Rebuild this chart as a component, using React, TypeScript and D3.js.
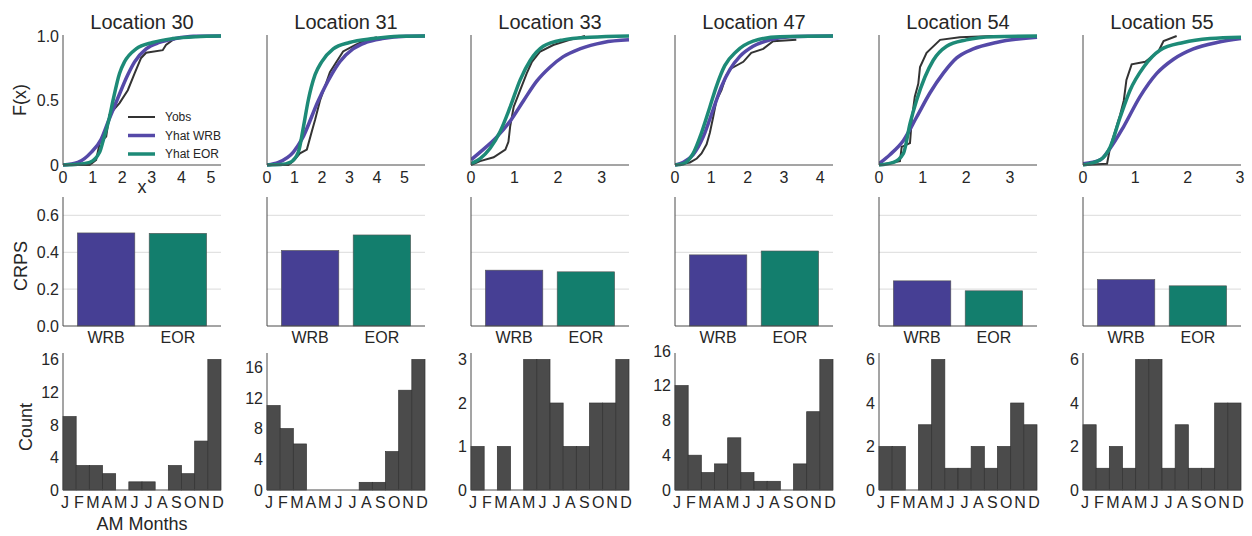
import React from 'react';
import * as d3 from 'd3';

// ---- data ----
const locations = ['Location 30', 'Location 31', 'Location 33', 'Location 47', 'Location 54', 'Location 55'];
const methods = ['WRB', 'EOR'];
const crpsWRB = [0.505, 0.41, 0.303, 0.386, 0.245, 0.252];
const crpsEOR = [0.503, 0.494, 0.294, 0.407, 0.191, 0.218];

const months = ['J', 'F', 'M', 'A', 'M', 'J', 'J', 'A', 'S', 'O', 'N', 'D'];
const count30 = [9, 3, 3, 2, 0, 1, 1, 0, 3, 2, 6, 16];
const count31 = [11, 8, 6, 0, 0, 0, 0, 1, 1, 5, 13, 17];
const count33 = [1, 0, 1, 0, 3, 3, 2, 1, 1, 2, 2, 3];
const count47 = [12, 4, 2, 3, 6, 2, 1, 1, 0, 3, 9, 15];
const count54 = [2, 2, 0, 3, 6, 1, 1, 2, 1, 2, 4, 3];
const count55 = [3, 1, 2, 1, 6, 6, 1, 3, 1, 1, 4, 4];
const countTicks = [[0, 4, 8, 12, 16], [0, 4, 8, 12, 16], [0, 1, 2, 3], [0, 4, 8, 12, 16], [0, 2, 4, 6], [0, 2, 4, 6]];

const xMax = [5.34, 5.75, 3.63, 4.35, 3.62, 3.02];
const xTicks = [[0, 1, 2, 3, 4, 5], [0, 1, 2, 3, 4, 5], [0, 1, 2, 3], [0, 1, 2, 3, 4], [0, 1, 2, 3], [0, 1, 2, 3]];

// empirical / fitted CDF points [x, F(x)]
const yobs30 = [[0, 0], [0.9, 0], [1.12, 0.04], [1.24, 0.17], [1.46, 0.22], [1.57, 0.39], [1.91, 0.48], [2.19, 0.58], [2.42, 0.71], [2.64, 0.83], [2.81, 0.87], [3.37, 0.89], [3.48, 0.93], [3.71, 0.97], [3.95, 0.99]];
const wrb30 = [[0, 0], [0.5, 0.02], [0.96, 0.1], [1.29, 0.2], [1.55, 0.35], [1.82, 0.5], [2.19, 0.7], [2.42, 0.8], [2.81, 0.9], [3.26, 0.95], [3.8, 0.98], [4.4, 0.998], [5.34, 1.0]];
const eor30 = [[0, 0], [0.5, 0.005], [0.9, 0.02], [1.24, 0.1], [1.37, 0.2], [1.57, 0.37], [1.69, 0.5], [1.91, 0.71], [2.08, 0.8], [2.47, 0.9], [3.03, 0.95], [3.7, 0.98], [4.5, 0.995], [5.34, 1.0]];

const yobs31 = [[0, 0], [0.78, 0], [0.96, 0.03], [1.2, 0.09], [1.45, 0.12], [1.63, 0.26], [1.75, 0.35], [1.93, 0.5], [2.11, 0.61], [2.29, 0.72], [2.53, 0.8], [2.77, 0.88], [3.2, 0.93], [3.6, 0.97], [4.0, 0.99]];
const wrb31 = [[0, 0], [0.42, 0.02], [0.96, 0.1], [1.27, 0.2], [1.87, 0.5], [2.35, 0.7], [2.65, 0.8], [3.13, 0.9], [3.6, 0.95], [4.2, 0.98], [5.06, 0.998], [5.75, 1.0]];
const eor31 = [[0, 0], [0.5, 0.003], [0.84, 0.02], [1.14, 0.1], [1.33, 0.3], [1.5, 0.5], [1.75, 0.7], [1.99, 0.8], [2.41, 0.9], [3.0, 0.95], [3.86, 0.98], [4.8, 0.998], [5.75, 1.0]];

const yobs33 = [[0, 0], [0.21, 0.03], [0.52, 0.06], [0.79, 0.12], [0.86, 0.18], [0.9, 0.3], [0.98, 0.45], [1.13, 0.58], [1.28, 0.71], [1.4, 0.8], [1.59, 0.88], [1.89, 0.93], [2.27, 0.97], [2.62, 1.0]];
const wrb33 = [[0, 0.04], [0.21, 0.1], [0.6, 0.22], [0.9, 0.34], [1.21, 0.5], [1.51, 0.65], [1.82, 0.76], [2.12, 0.84], [2.5, 0.9], [3.04, 0.95], [3.63, 0.97]];
const eor33 = [[0, 0.01], [0.21, 0.05], [0.44, 0.13], [0.67, 0.26], [0.9, 0.45], [1.13, 0.66], [1.36, 0.81], [1.66, 0.92], [2.12, 0.97], [2.73, 0.99], [3.63, 1.0]];

const yobs47 = [[0, 0], [0.41, 0.02], [0.6, 0.05], [0.73, 0.09], [0.87, 0.16], [0.96, 0.25], [1.05, 0.37], [1.14, 0.5], [1.28, 0.58], [1.42, 0.7], [1.56, 0.75], [1.88, 0.8], [2.1, 0.87], [2.43, 0.9], [2.7, 0.96], [3.34, 0.97]];
const wrb47 = [[0, 0], [0.23, 0.02], [0.5, 0.08], [0.78, 0.22], [1.05, 0.43], [1.28, 0.61], [1.51, 0.74], [1.78, 0.84], [2.15, 0.92], [2.61, 0.97], [3.16, 0.995], [4.35, 1.0]];
const eor47 = [[0, 0], [0.23, 0.01], [0.5, 0.09], [0.73, 0.25], [0.96, 0.45], [1.14, 0.61], [1.37, 0.77], [1.69, 0.88], [2.15, 0.96], [2.88, 0.995], [4.35, 1.0]];

const yobs54 = [[0, 0], [0.48, 0.03], [0.52, 0.14], [0.71, 0.17], [0.75, 0.35], [0.82, 0.53], [0.9, 0.63], [0.94, 0.76], [1.09, 0.87], [1.4, 0.97], [1.85, 0.99], [2.62, 1.0]];
const wrb54 = [[0, 0.01], [0.25, 0.08], [0.56, 0.19], [0.86, 0.37], [1.17, 0.56], [1.47, 0.71], [1.78, 0.83], [2.16, 0.9], [2.69, 0.95], [3.62, 0.99]];
const eor54 = [[0, 0], [0.33, 0.02], [0.56, 0.09], [0.71, 0.32], [0.86, 0.5], [1.05, 0.68], [1.24, 0.81], [1.55, 0.92], [2.0, 0.97], [2.62, 0.995], [3.62, 1.0]];

const yobs55 = [[0, 0], [0.46, 0.01], [0.52, 0.14], [0.62, 0.27], [0.71, 0.39], [0.78, 0.5], [0.83, 0.66], [0.93, 0.78], [1.19, 0.8], [1.44, 0.88], [1.54, 0.96], [1.79, 1.0]];
const wrb55 = [[0, 0.01], [0.33, 0.04], [0.52, 0.13], [0.78, 0.3], [1.09, 0.53], [1.41, 0.71], [1.73, 0.82], [2.11, 0.9], [2.56, 0.95], [3.02, 0.98]];
const eor55 = [[0, 0], [0.33, 0.04], [0.52, 0.14], [0.71, 0.37], [0.9, 0.58], [1.16, 0.76], [1.47, 0.89], [1.92, 0.95], [2.43, 0.98], [3.02, 0.99]];

const yobsAll = [yobs30, yobs31, yobs33, yobs47, yobs54, yobs55];
const wrbAll = [wrb30, wrb31, wrb33, wrb47, wrb54, wrb55];
const eorAll = [eor30, eor31, eor33, eor47, eor54, eor55];
const countsAll = [count30, count31, count33, count47, count54, count55];
const legendLabels = ['Yobs', 'Yhat WRB', 'Yhat EOR'];

// ---- styling / layout ----
const FONT = '"Liberation Sans", Arial, Helvetica, sans-serif';
const TXT = '#262626';
const SPINE = '#4a4a4a';
const C_OBS = '#333333';
const C_WRB_LINE = '#5549a8';
const C_EOR_LINE = '#1d8a77';
const C_WRB = '#463f94';
const C_EOR = '#137e6d';
const C_HIST = '#4b4b4b';

const W = 158;
const colX = (i: number) => 63 + i * 204;
const TOP = { y0: 36, y1: 165 };
const MID = { y0: 197, y1: 326 };
const BOT = { y0: 353, y1: 490 };

function CdfPanel({ i }: { i: number }) {
  const x0 = colX(i);
  const x = d3.scaleLinear().domain([0, xMax[i]]).range([x0, x0 + W]);
  const y = d3.scaleLinear().domain([0, 1]).range([TOP.y1, TOP.y0]);
  const smooth = d3.line<number[]>().x(d => x(d[0])).y(d => y(d[1])).curve(d3.curveMonotoneX);
  const raw = d3.line<number[]>().x(d => x(d[0])).y(d => y(d[1]));
  const clipId = 'clip-cdf-' + i;
  return (
    <g>
      <defs>
        <clipPath id={clipId}>
          <rect x={x0} y={TOP.y0 - 4} width={W + 2} height={TOP.y1 - TOP.y0 + 8} />
        </clipPath>
      </defs>
      <text x={x0 + W / 2} y={29} textAnchor="middle" fontSize={20} fill={TXT}>{locations[i]}</text>
      <g clipPath={`url(#${clipId})`}>
        <path d={raw(yobsAll[i]) || ''} fill="none" stroke={C_OBS} strokeWidth={2} />
        <path d={smooth(wrbAll[i]) || ''} fill="none" stroke={C_WRB_LINE} strokeWidth={3.5} />
        <path d={smooth(eorAll[i]) || ''} fill="none" stroke={C_EOR_LINE} strokeWidth={3.5} />
      </g>
      <line x1={x0} x2={x0} y1={TOP.y0 - 1} y2={TOP.y1} stroke={SPINE} strokeWidth={1} />
      <line x1={x0} x2={x0 + W} y1={TOP.y1} y2={TOP.y1} stroke={SPINE} strokeWidth={1} />
      {xTicks[i].map(t => (
        <text key={t} x={x(t)} y={183} textAnchor="middle" fontSize={16} fill={TXT}>{t}</text>
      ))}
      {i === 0 && [0, 0.5, 1].map(t => (
        <text key={t} x={x0 - 4} y={y(t)} dy="0.36em" textAnchor="end" fontSize={16} fill={TXT}>
          {t === 0 ? '0' : t.toFixed(1)}
        </text>
      ))}
      {i === 0 && (
        <g>
          {legendLabels.map((lab, k) => (
            <g key={lab}>
              <line x1={128} x2={155} y1={117 + k * 18.5} y2={117 + k * 18.5}
                stroke={[C_OBS, C_WRB_LINE, C_EOR_LINE][k]} strokeWidth={k === 0 ? 2 : 3.5} />
              <text x={165} y={117 + k * 18.5} dy="0.36em" fontSize={12} fill={TXT}>{lab}</text>
            </g>
          ))}
        </g>
      )}
    </g>
  );
}

function CrpsPanel({ i }: { i: number }) {
  const x0 = colX(i);
  const x = d3.scaleBand().domain(methods).range([x0 + 0.1 * W / 2.2, x0 + W - 0.1 * W / 2.2]).paddingInner(0.2).paddingOuter(0.1);
  const y = d3.scaleLinear().domain([0, 0.7]).range([MID.y1, MID.y0]);
  const vals = [crpsWRB[i], crpsEOR[i]];
  return (
    <g>
      {[0.2, 0.4, 0.6].map(t => (
        <line key={t} x1={x0} x2={x0 + W} y1={y(t)} y2={y(t)} stroke="#e2e2e2" strokeWidth={1.3} />
      ))}
      {methods.map((m, k) => (
        <rect key={m} x={x(m)} y={y(vals[k])} width={x.bandwidth()} height={y(0) - y(vals[k])}
          fill={k === 0 ? C_WRB : C_EOR} stroke="#555" strokeWidth={0.6} />
      ))}
      <line x1={x0} x2={x0} y1={MID.y0} y2={MID.y1} stroke={SPINE} strokeWidth={1} />
      <line x1={x0} x2={x0 + W} y1={MID.y1} y2={MID.y1} stroke={SPINE} strokeWidth={1} />
      {methods.map(m => (
        <text key={m} x={(x(m) || 0) + x.bandwidth() / 2} y={343} textAnchor="middle" fontSize={16} fill={TXT}>{m}</text>
      ))}
      {i === 0 && [0, 0.2, 0.4, 0.6].map(t => (
        <text key={t} x={x0 - 4} y={y(t)} dy="0.36em" textAnchor="end" fontSize={16} fill={TXT}>{t.toFixed(1)}</text>
      ))}
    </g>
  );
}

function HistPanel({ i }: { i: number }) {
  const x0 = colX(i);
  const counts = countsAll[i];
  const x = d3.scaleBand<number>().domain(d3.range(months.length)).range([x0, x0 + W]).padding(0);
  const y = d3.scaleLinear().domain([0, (d3.max(counts) || 1) * 1.05]).range([BOT.y1, BOT.y0]);
  const lab = d3.scalePoint<number>().domain(d3.range(months.length)).range([x0 + 2, x0 + W - 3]);
  return (
    <g>
      {counts.map((c, k) => (
        <rect key={k} x={x(k)} y={y(c)} width={x.bandwidth()} height={y(0) - y(c)}
          fill={C_HIST} stroke="#333" strokeWidth={0.7} />
      ))}
      <line x1={x0} x2={x0} y1={BOT.y0} y2={BOT.y1} stroke={SPINE} strokeWidth={1} />
      <line x1={x0} x2={x0 + W} y1={BOT.y1} y2={BOT.y1} stroke={SPINE} strokeWidth={1} />
      {months.map((m, k) => (
        <text key={k} x={lab(k)} y={508} textAnchor="middle" fontSize={16} fill={TXT}>{m}</text>
      ))}
      {countTicks[i].map(t => (
        <text key={t} x={x0 - 4} y={y(t)} dy="0.36em" textAnchor="end" fontSize={16} fill={TXT}>{t}</text>
      ))}
    </g>
  );
}

export default function App() {
  const cols = d3.range(locations.length);
  return (
    <svg width={1252} height={536} style={{ position: 'absolute', left: 0, top: 0, background: '#fff' }}
      fontFamily={FONT}>
      {cols.map(i => <CdfPanel key={'c' + i} i={i} />)}
      {cols.map(i => <CrpsPanel key={'m' + i} i={i} />)}
      {cols.map(i => <HistPanel key={'h' + i} i={i} />)}
      <text x={142} y={193} textAnchor="middle" fontSize={18} fill={TXT}>x</text>
      <text transform="translate(26,100) rotate(-90)" textAnchor="middle" fontSize={18} fill={TXT}>F(x)</text>
      <text transform="translate(27,266) rotate(-90)" textAnchor="middle" fontSize={18} fill={TXT}>CRPS</text>
      <text transform="translate(32,427) rotate(-90)" textAnchor="middle" fontSize={18} fill={TXT}>Count</text>
      <text x={142} y={530} textAnchor="middle" fontSize={18} fill={TXT}>AM Months</text>
    </svg>
  );
}
